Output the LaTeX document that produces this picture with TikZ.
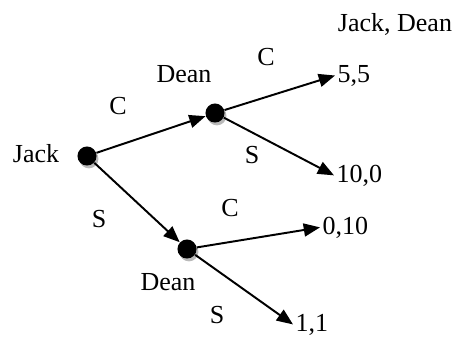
\documentclass[tikz,border=0pt]{standalone}
\usepackage{fontspec}
\setmainfont{Liberation Serif}
\usetikzlibrary{arrows.meta,shadows}

\begin{document}
\begin{tikzpicture}[
  x=0.4615pt, y=-0.4615pt,
  dot/.style={circle, fill=black, inner sep=0pt, minimum size=8.8pt,
    drop shadow={shadow xshift=0.9pt, shadow yshift=-1.3pt, fill=gray!55, opacity=1}},
  move/.style={-{Triangle[length=7.5pt,width=6pt]}, line width=0.9pt},
  lab/.style={font=\fontsize{12}{14}\selectfont, inner sep=0pt, anchor=base},
  pay/.style={lab, anchor=base west, inner xsep=1pt}
]
\useasboundingbox (0,0) rectangle (455,336);

%% ---------- decision nodes ----------
\node[dot] (jack)  at (87,156) {};
\node[dot] (deanC) at (215,113) {};
\node[dot] (deanS) at (187,249) {};

%% ---------- players ----------
\node[lab] (jackname)  at (36,162)  {Jack};
\node[lab] (deanCname) at (184,82)  {Dean};
\node[lab] (deanSname) at (168,290) {Dean};
\node[lab] (header)    at (395,31)  {Jack, Dean};

%% ---------- payoffs ----------
\node[pay] (p55)  at (335,82)  {5,5};
\node[pay] (p100) at (334,182) {10,0};
\node[pay] (p010) at (320,234) {0,10};
\node[pay] (p11)  at (293,331) {1,1};

%% ---------- moves ----------
\draw[move] (jack) -- (deanC);
\draw[move] (jack) -- (deanS);
\draw[move] (deanC) -- (p55.west);
\draw[move] (deanC) -- (p100.west);
\draw[move] (deanS) -- (p010.west);
\draw[move] (deanS) -- (p11.west);

%% ---------- move labels ----------
\node[lab] (jC)  at (118,114) {C};
\node[lab] (jS)  at (99,227)  {S};
\node[lab] (dCC) at (266,65)  {C};
\node[lab] (dCS) at (252,163) {S};
\node[lab] (dSC) at (230,216) {C};
\node[lab] (dSS) at (217,323) {S};

\end{tikzpicture}
\end{document}
